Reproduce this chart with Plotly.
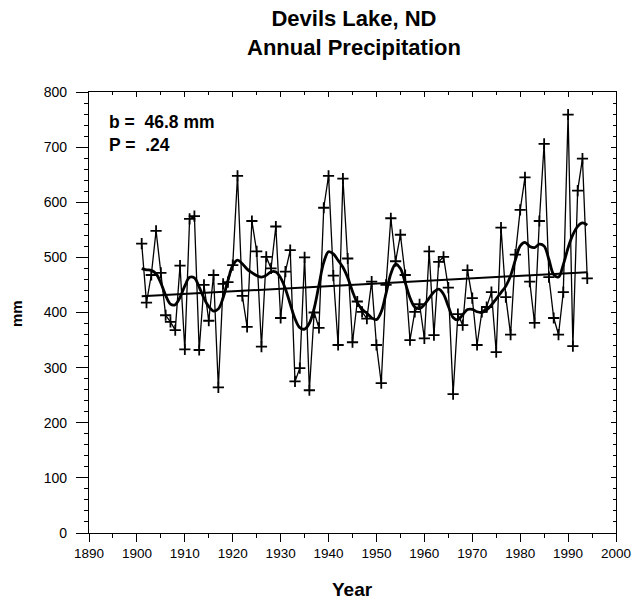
import numpy as np
import plotly.graph_objects as go

# Annual precipitation at Devils Lake, ND (mm)
years = list(range(1901, 1995))
precip_mm = [525, 418, 468, 548, 472, 395, 383, 368, 485, 333,
             570, 575, 332, 450, 385, 468, 264, 452, 455, 486,
             648, 430, 374, 566, 511, 338, 501, 480, 556, 390,
             474, 513, 275, 299, 500, 259, 400, 372, 590, 648,
             467, 341, 643, 498, 346, 420, 401, 389, 456, 341,
             272, 450, 571, 493, 541, 468, 350, 401, 415, 353,
             511, 359, 492, 501, 445, 252, 397, 377, 477, 426,
             341, 401, 410, 437, 328, 554, 428, 360, 505, 586,
             645, 456, 381, 566, 706, 464, 390, 360, 437, 759,
             339, 621, 679, 462]

trend_per_century_mm = 46.8
p_value = ".24"

x_ticks = list(range(1890, 2001, 10))
y_ticks = list(range(0, 801, 100))

yr = np.array(years, dtype=float)
pr = np.array(precip_mm, dtype=float)

# Gaussian-weighted running mean for the smooth curve
sigma = 1.7
w = np.exp(-0.5 * ((yr[:, None] - yr[None, :]) / sigma) ** 2)
smooth = (w @ pr) / w.sum(axis=1)

# Linear trend through the mean
slope = trend_per_century_mm / 100.0
trend_x = [yr[0], yr[-1]]
trend_y = [pr.mean() + slope * (x - yr.mean()) for x in trend_x]

FONT = "Liberation Sans"
L, R, T, B = 89, 18, 92, 66
W, H = 634, 599
PW, PH = W - L - R, H - T - B


def px_x(px):
    return (px - L) / PW


def px_y(py):
    return (H - B - py) / PH


fig = go.Figure()
fig.add_trace(go.Scatter(
    x=years, y=precip_mm, mode="lines+markers",
    line=dict(color="black", width=1.3),
    marker=dict(symbol="cross-thin", size=8, line=dict(color="black", width=1.8)),
    hoverinfo="x+y", showlegend=False))
fig.add_trace(go.Scatter(
    x=years, y=smooth, mode="lines", line=dict(color="black", width=2.8, shape="spline"),
    showlegend=False, hoverinfo="skip"))
fig.add_trace(go.Scatter(
    x=trend_x, y=trend_y, mode="lines", line=dict(color="black", width=2),
    showlegend=False, hoverinfo="skip"))
# invisible trace to carry the top/right frame axes
fig.add_trace(go.Scatter(x=[1890], y=[0], xaxis="x2", yaxis="y2", mode="markers",
                         marker=dict(opacity=0), showlegend=False, hoverinfo="skip"))

axis_common = dict(showgrid=False, zeroline=False, linecolor="black", linewidth=1.2,
                   tickcolor="black", tickwidth=1.2, automargin=False, showline=True)

fig.update_layout(
    width=W, height=H,
    margin=dict(l=L, r=R, t=T, b=B, autoexpand=False),
    paper_bgcolor="white", plot_bgcolor="white",
    xaxis=dict(range=[1890, 2000], tickvals=x_ticks, ticks="outside", ticklen=8,
               tickfont=dict(family=FONT, size=13.5, color="black"),
               minor=dict(dtick=5, ticklen=4, tickcolor="black", ticks="outside"),
               **axis_common),
    yaxis=dict(range=[0, 800], tickvals=y_ticks, ticks="outside", ticklen=12,
               ticklabelstandoff=6,
               tickfont=dict(family=FONT, size=14, color="black"),
               minor=dict(dtick=20, ticklen=4, tickcolor="black", ticks="outside"),
               **axis_common),
    xaxis2=dict(range=[1890, 2000], overlaying="x", side="top", tickvals=x_ticks,
                ticks="inside", ticklen=5, showticklabels=False,
                minor=dict(dtick=5, ticklen=3, tickcolor="black", ticks="inside"),
                **axis_common),
    yaxis2=dict(range=[0, 800], overlaying="y", side="right", tickvals=y_ticks,
                ticks="inside", ticklen=5, showticklabels=False,
                minor=dict(dtick=20, ticklen=3, tickcolor="black", ticks="inside"),
                **axis_common),
    annotations=[
        dict(text="<b>Devils Lake, ND<br>Annual Precipitation</b>", xref="paper", yref="paper",
             x=px_x(354), y=px_y(33), xanchor="center", yanchor="middle", showarrow=False,
             align="center", font=dict(family=FONT, size=22, color="black")),
        dict(text="<b>Year</b>", xref="paper", yref="paper",
             x=px_x(352), y=px_y(589), xanchor="center", yanchor="middle", showarrow=False,
             font=dict(family=FONT, size=19, color="black")),
        dict(text="<b>mm</b>", xref="paper", yref="paper", textangle=-90,
             x=px_x(16), y=px_y(314), xanchor="center", yanchor="middle", showarrow=False,
             font=dict(family=FONT, size=15, color="black")),
        dict(text=f"<b>b =  {trend_per_century_mm} mm</b>", xref="paper", yref="paper",
             x=px_x(107), y=px_y(122), xanchor="left", yanchor="middle", showarrow=False,
             font=dict(family=FONT, size=17.5, color="black")),
        dict(text=f"<b>P =  {p_value}</b>", xref="paper", yref="paper",
             x=px_x(107), y=px_y(145), xanchor="left", yanchor="middle", showarrow=False,
             font=dict(family=FONT, size=17.5, color="black")),
    ],
)

fig.write_html("out.html")
